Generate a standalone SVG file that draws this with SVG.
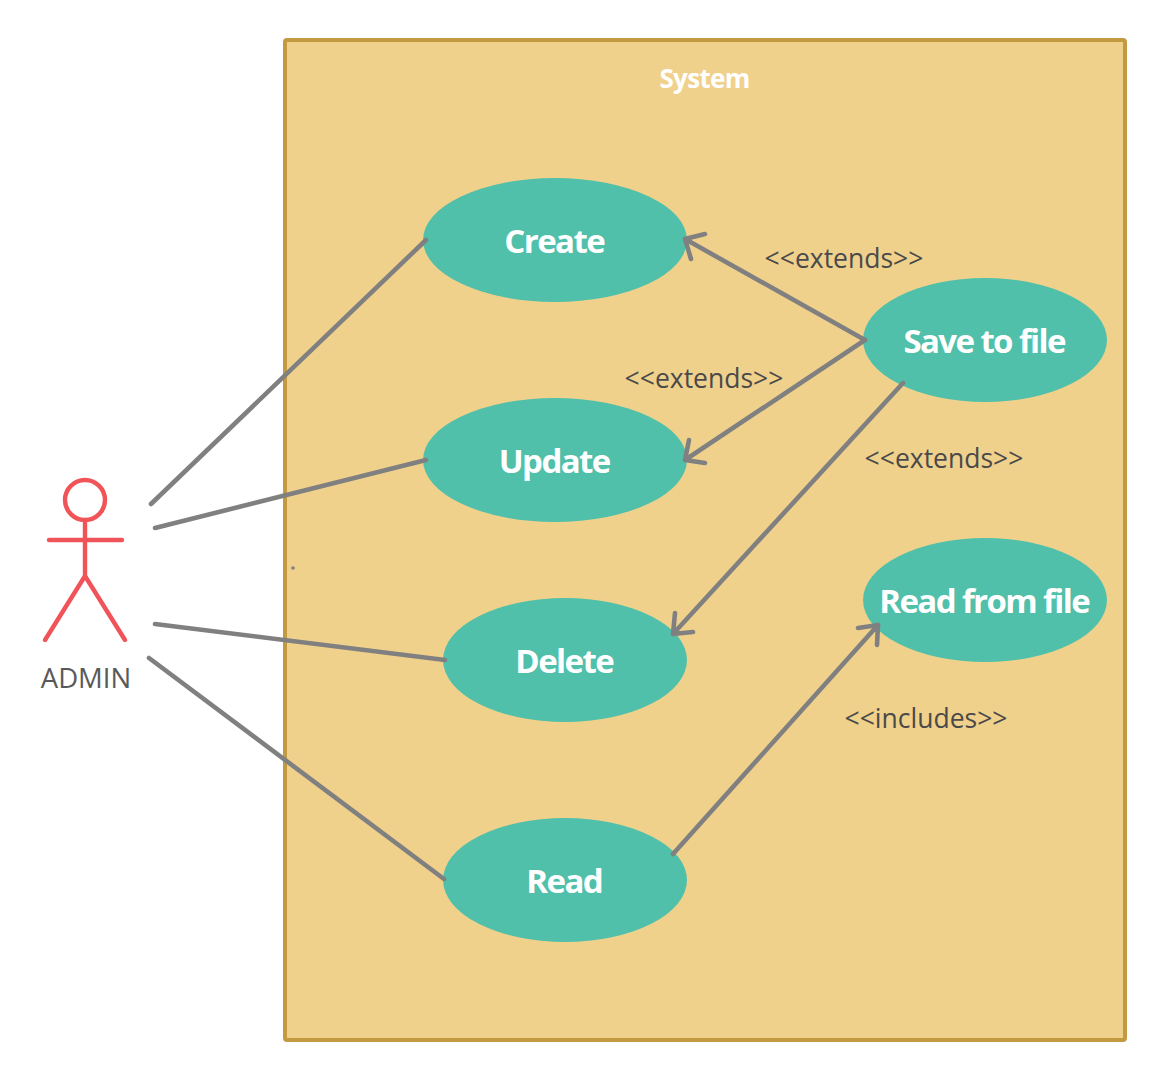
<svg xmlns="http://www.w3.org/2000/svg" width="1165" height="1080" viewBox="0 0 1165 1080">
<style>
.uc{fill:#50c0aa}
.t{font-family:"Open Sans","Noto Sans",sans-serif;text-anchor:middle}
.ut{font-size:33px;font-weight:700;fill:#fff;letter-spacing:-1.6px}
.lb{font-size:26.5px;fill:#4a4a4a}
.c{fill:none;stroke:#808080;stroke-width:4.6;stroke-linecap:round;stroke-linejoin:round}
.a{fill:none;stroke:#f05458;stroke-width:4.4;stroke-linecap:round}
</style>
<rect width="1165" height="1080" fill="#fff"/>
<g id="system"><rect x="285" y="40" width="840" height="1000" rx="2" fill="#f0d18c" stroke="#c19a42" stroke-width="4"/><text class="t" x="704.5" y="88" font-size="26" font-weight="700" letter-spacing="-0.7" fill="#fff">System</text><circle cx="293" cy="568" r="1.8" fill="#808080"/></g>
<g id="create"><ellipse class="uc" cx="555" cy="240" rx="132" ry="62"/><text class="t ut" x="554.2" y="252.5">Create</text></g>
<g id="update"><ellipse class="uc" cx="555" cy="460" rx="132" ry="62"/><text class="t ut" x="554.2" y="472.5">Update</text></g>
<g id="delete"><ellipse class="uc" cx="565" cy="660" rx="122" ry="62"/><text class="t ut" x="564.2" y="672.5">Delete</text></g>
<g id="read"><ellipse class="uc" cx="565" cy="880" rx="122" ry="62"/><text class="t ut" x="564.2" y="892.5">Read</text></g>
<g id="save"><ellipse class="uc" cx="985" cy="340" rx="122" ry="62"/><text class="t ut" x="984.2" y="352.5">Save to file</text></g>
<g id="readfile"><ellipse class="uc" cx="985" cy="600" rx="122" ry="62"/><text class="t ut" x="984.2" y="612.5">Read from file</text></g>
<g id="connectors">
<path class="c" d="M151 504L426 240M155 528L426 460M155 624L445 660M149 658L444 879"/>
<path class="c" d="M865 340L685 239M705 234L685 239L691 259"/>
<path class="c" d="M865 340L685 460M689 440L685 460L705 463"/>
<path class="c" d="M903 383L673 634M693 632L673 634L675 613"/>
<path class="c" d="M673 854L878 625M858 628L878 625L877 645"/>
</g>
<g id="labels">
<text class="t lb" x="844" y="268">&lt;&lt;extends&gt;&gt;</text>
<text class="t lb" x="704" y="388">&lt;&lt;extends&gt;&gt;</text>
<text class="t lb" x="944" y="468">&lt;&lt;extends&gt;&gt;</text>
<text class="t lb" x="926" y="728">&lt;&lt;includes&gt;&gt;</text>
</g>
<g id="admin"><circle class="a" cx="85" cy="500" r="20"/><path class="a" d="M85 520V576M49 540H122M85 576L45 640M85 576L125 640"/><text class="t" x="86" y="688" font-size="27.5" fill="#595959">ADMIN</text></g>
</svg>
